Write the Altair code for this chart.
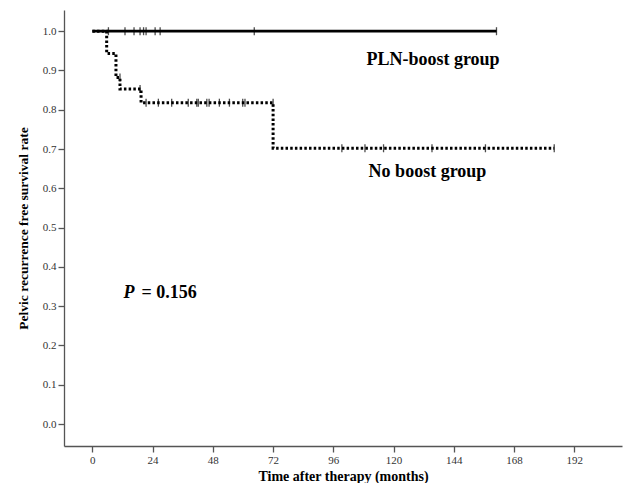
import altair as alt
import pandas as pd

# Kaplan-Meier step points (time in months, survival rate)
pln_t = [0, 161]
pln_s = [1.0, 1.0]
pln_cens_t = [6.4, 13, 16.6, 19, 20.4, 21.4, 25, 27, 64.5, 161]

nob_t = [0, 5.7, 9.4, 11, 19.4, 72, 184]
nob_s = [1.0, 0.943, 0.882, 0.853, 0.818, 0.702, 0.702]
nob_cens_t = [11, 19, 21.4, 26.3, 31.6, 38.2, 41.6, 42.2, 45.6, 46.5, 50.6, 54.6,
              59.9, 60.8, 72, 99.4, 108.6, 116, 135.3, 156.6, 184]
nob_cens_s = [0.882, 0.853] + [0.818] * 13 + [0.702] * 6

x_ticks = [0, 24, 48, 72, 96, 120, 144, 168, 192]
y_ticks = [0.0, 0.1, 0.2, 0.3, 0.4, 0.5, 0.6, 0.7, 0.8, 0.9, 1.0]

labels = ["PLN-boost group", "No boost group"]
label_t = [135.7, 133.5]
label_s = [0.915, 0.63]

p_text = ["P", "= 0.156"]
p_t = [12.4, 19.6]
p_s = [0.32, 0.32]

pln_df = pd.DataFrame({"t": pln_t, "s": pln_s})
nob_df = pd.DataFrame({"t": nob_t, "s": nob_s})
pln_c = pd.DataFrame({"t": pln_cens_t, "s": [1.0] * len(pln_cens_t)})
nob_c = pd.DataFrame({"t": nob_cens_t, "s": nob_cens_s})
lab_df = pd.DataFrame({"t": label_t, "s": label_s, "txt": labels})
p_df = pd.DataFrame({"t": p_t, "s": p_s, "txt": p_text})

FONT = "Liberation Serif"

xs = alt.Scale(domain=[-11.3, 211], nice=False, zero=False)
ys = alt.Scale(domain=[-0.056, 1.054], nice=False, zero=False)

X = alt.X("t:Q", scale=xs,
          axis=alt.Axis(values=x_ticks, title="Time after therapy (months)",
                        format="d", tickSize=6, labelPadding=2, titlePadding=4))
Y = alt.Y("s:Q", scale=ys,
          axis=alt.Axis(values=y_ticks, title="Pelvic recurrence free survival rate",
                        format=".1f", tickSize=6, labelPadding=2, titlePadding=12))

line_pln = alt.Chart(pln_df).mark_line(interpolate="step-after", color="black",
                                       strokeWidth=2.8).encode(x=X, y=Y)
line_nob = alt.Chart(nob_df).mark_line(interpolate="step-after", color="black",
                                       strokeWidth=3, strokeDash=[2.5, 2.2],
                                       strokeCap="butt").encode(x="t:Q", y="s:Q")
cens_pln = alt.Chart(pln_c).mark_tick(orient="vertical", size=8, thickness=1.3,
                                      color="black").encode(x="t:Q", y="s:Q")
cens_nob = alt.Chart(nob_c).mark_tick(orient="vertical", size=8, thickness=1.3,
                                      color="black").encode(x="t:Q", y="s:Q")
lab = alt.Chart(lab_df).mark_text(font=FONT, fontSize=18, fontWeight="bold",
                                  align="center", baseline="alphabetic",
                                  color="black").encode(x="t:Q", y="s:Q", text="txt:N")
p_italic = alt.Chart(p_df.iloc[[0]]).mark_text(font=FONT, fontSize=18, fontWeight="bold",
                                               fontStyle="italic", align="left",
                                               baseline="alphabetic", color="black"
                                               ).encode(x="t:Q", y="s:Q", text="txt:N")
p_rest = alt.Chart(p_df.iloc[[1]]).mark_text(font=FONT, fontSize=18, fontWeight="bold",
                                             align="left", baseline="alphabetic",
                                             color="black"
                                             ).encode(x="t:Q", y="s:Q", text="txt:N")

chart = alt.layer(line_nob, line_pln, cens_pln, cens_nob, lab, p_italic, p_rest).properties(
    width=558, height=436,
    autosize=alt.AutoSizeParams(type="none"),
    padding={"left": 56, "top": 2, "right": 2, "bottom": 37},
    background="white",
).configure_view(strokeWidth=0).configure_axis(
    grid=False,
    domainColor="#555555",
    tickColor="#555555",
    domainWidth=1.3,
    tickWidth=1.3,
    labelFont=FONT,
    labelFontSize=11,
    labelColor="#333333",
    titleFont=FONT,
    titleFontSize=14,
    titleFontWeight="bold",
    titleColor="black",
).configure_axisY(titleFontSize=13.5)

chart.save("out.html", embed_options={"renderer": "svg", "actions": False})
